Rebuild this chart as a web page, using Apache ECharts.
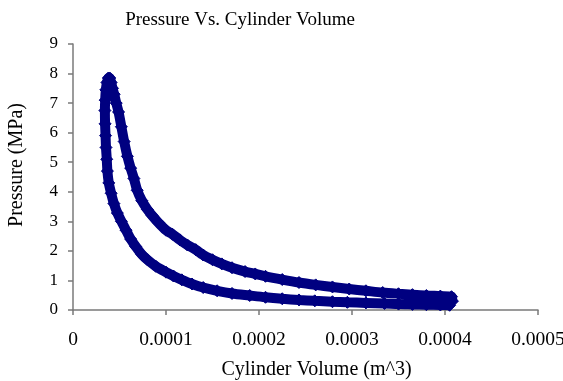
<!DOCTYPE html>
<html>
<head>
<meta charset="utf-8">
<script src="https://cdn.jsdelivr.net/npm/echarts@6/dist/echarts.min.js"></script>
<style>
html,body{margin:0;padding:0;background:#fff;}
#c{width:563px;height:381px;}
</style>
</head>
<body>
<div id="c"></div>
<script>
// Volume in units of 1e-6 m^3, pressure in MPa, traced around the loop
const compressionVolume = [405, 395, 380, 365, 350, 335, 315, 295, 279, 260, 243, 225, 207, 190, 171, 155, 140, 128, 117, 108, 100, 89, 80, 74, 67.4, 62, 57, 52, 47.7, 44, 41, 38.5, 37, 36.3, 35.5, 35, 34.5, 34.3, 34.6, 35.3, 36.5, 38];
const compressionPressure = [0.16, 0.17, 0.18, 0.19, 0.2, 0.22, 0.24, 0.26, 0.28, 0.31, 0.34, 0.38, 0.43, 0.49, 0.56, 0.65, 0.76, 0.88, 1.02, 1.15, 1.28, 1.48, 1.7, 1.88, 2.15, 2.4, 2.7, 3.0, 3.28, 3.6, 3.95, 4.3, 4.7, 5.1, 5.5, 5.9, 6.3, 6.75, 7.1, 7.45, 7.7, 7.85];
const expansionVolume = [39.5, 41, 42.5, 44.3, 46.5, 49, 52, 55, 58.5, 62, 65.5, 69, 74, 80, 85, 92, 100, 107, 115, 123, 132, 140, 150, 160, 171, 185, 196, 207, 225, 243, 261, 279, 297, 315, 333, 350, 365, 380, 395, 407, 408];
const expansionPressure = [7.85, 7.7, 7.5, 7.3, 7.0, 6.7, 6.2, 5.7, 5.2, 4.8, 4.45, 4.05, 3.7, 3.4, 3.2, 2.95, 2.7, 2.56, 2.37, 2.2, 2.04, 1.86, 1.7, 1.56, 1.43, 1.3, 1.22, 1.14, 1.03, 0.93, 0.85, 0.78, 0.71, 0.65, 0.59, 0.55, 0.52, 0.49, 0.47, 0.45, 0.3];
const xTicks = [0, 0.0001, 0.0002, 0.0003, 0.0004, 0.0005];
const yTicks = [0, 1, 2, 3, 4, 5, 6, 7, 8, 9];
const titleText = 'Pressure Vs. Cylinder Volume';
const xName = 'Cylinder Volume (m^3)';
const yName = 'Pressure (MPa)';

const vols = compressionVolume.concat(expansionVolume);
const press = compressionPressure.concat(expansionPressure);
const loop = vols.map((v, i) => [v * 1e-6, press[i]]);

const chart = echarts.init(document.getElementById('c'), null, {renderer: 'canvas'});
const serif = '"Liberation Serif", "Times New Roman", serif';
const axisGray = '#7a7a7a';
chart.setOption({
  animation: false,
  backgroundColor: '#ffffff',
  title: {
    text: titleText,
    left: 235, top: 6, textAlign: 'center',
    textStyle: {fontFamily: serif, fontSize: 19, fontWeight: 'normal', color: '#000'}
  },
  grid: {left: 73, right: 25, top: 44, bottom: 71, containLabel: false, outerBoundsMode: 'none'},
  xAxis: {
    type: 'value', min: xTicks[0], max: xTicks[xTicks.length - 1], interval: 0.0001,
    name: xName, nameLocation: 'middle', nameGap: 50,
    nameTextStyle: {fontFamily: serif, fontSize: 20, color: '#000', padding: [0, 0, 0, 22]},
    axisLine: {show: true, onZero: false, lineStyle: {color: axisGray, width: 1.5}},
    axisTick: {show: true, inside: false, length: 5, lineStyle: {color: axisGray, width: 1.5}},
    axisLabel: {margin: 20, fontFamily: serif, fontSize: 19.5, color: '#000',
      formatter: v => v === 0 ? '0' : v.toFixed(4)},
    splitLine: {show: false}
  },
  yAxis: {
    type: 'value', min: yTicks[0], max: yTicks[yTicks.length - 1], interval: 1,
    name: yName, nameLocation: 'middle', nameGap: 46,
    nameTextStyle: {fontFamily: serif, fontSize: 20, color: '#000', padding: [0, 0, 0, 24]},
    axisLine: {show: true, lineStyle: {color: axisGray, width: 1.5}},
    axisTick: {show: true, inside: false, length: 5, lineStyle: {color: axisGray, width: 1.5}},
    axisLabel: {margin: 15, fontFamily: serif, fontSize: 17, color: '#000'},
    splitLine: {show: false}
  },
  series: [{
    type: 'line',
    data: loop,
    smooth: 0.3,
    showAllSymbol: true,
    symbol: 'diamond',
    symbolSize: 12,
    lineStyle: {color: '#000080', width: 10},
    itemStyle: {color: '#000080', borderColor: '#000080'},
    emphasis: {disabled: true}
  }]
});
</script>
</body>
</html>
